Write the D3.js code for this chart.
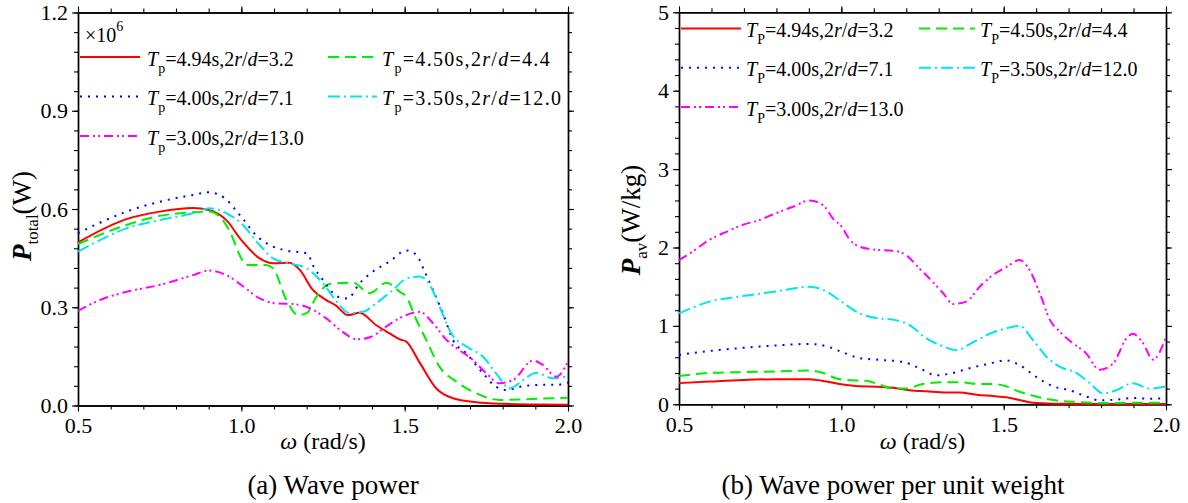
<!DOCTYPE html>
<html>
<head>
<meta charset="utf-8">
<script src="https://cdn.jsdelivr.net/npm/d3@7"></script>
<style>
  html, body { margin: 0; padding: 0; background: #fff; }
  svg { display: block; }
  text { font-family: "Liberation Serif", "Times New Roman", serif; fill: #000; }
</style>
</head>
<body>
<script>
// ---------------- DATA ----------------
// Legend entries (Tp, 2r/d)
const seriesTp = ["4.94", "4.50", "4.00", "3.50", "3.00"];
const seriesRatio = ["3.2", "4.4", "7.1", "12.0", "13.0"];

// Panel (a): total wave power, units of 1e6 W
const a_w_494 = [0.5, 0.648, 0.75, 0.852, 0.9, 0.954, 1.0, 1.056, 1.097, 1.148, 1.179, 1.219, 1.26, 1.29, 1.326, 1.362, 1.413, 1.454, 1.485, 1.505, 1.546, 1.597, 1.648, 1.72, 1.8, 1.9, 2.0];
const a_p_494 = [0.498, 0.569, 0.592, 0.603, 0.597, 0.566, 0.505, 0.449, 0.434, 0.436, 0.414, 0.353, 0.322, 0.305, 0.276, 0.283, 0.245, 0.220, 0.202, 0.195, 0.131, 0.052, 0.022, 0.010, 0.005, 0.003, 0.002];

const a_w_450 = [0.5, 0.648, 0.75, 0.852, 0.9, 0.934, 0.965, 1.0, 1.015, 1.076, 1.097, 1.138, 1.174, 1.2, 1.23, 1.27, 1.342, 1.393, 1.444, 1.485, 1.505, 1.536, 1.566, 1.607, 1.658, 1.72, 1.79, 1.893, 2.0];
const a_p_450 = [0.493, 0.551, 0.579, 0.590, 0.592, 0.576, 0.531, 0.449, 0.429, 0.429, 0.419, 0.322, 0.276, 0.282, 0.332, 0.371, 0.375, 0.343, 0.375, 0.347, 0.332, 0.261, 0.200, 0.118, 0.073, 0.037, 0.017, 0.020, 0.024];

const a_w_400 = [0.5, 0.567, 0.648, 0.75, 0.852, 0.9, 0.949, 1.0, 1.05, 1.087, 1.138, 1.2, 1.224, 1.25, 1.296, 1.326, 1.362, 1.403, 1.453, 1.505, 1.536, 1.561, 1.582, 1.617, 1.648, 1.689, 1.74, 1.78, 1.812, 1.853, 1.913, 1.964, 2.0];
const a_p_400 = [0.526, 0.558, 0.592, 0.622, 0.643, 0.651, 0.633, 0.576, 0.515, 0.490, 0.473, 0.465, 0.419, 0.383, 0.332, 0.327, 0.373, 0.409, 0.439, 0.473, 0.460, 0.409, 0.363, 0.282, 0.200, 0.159, 0.098, 0.057, 0.047, 0.057, 0.063, 0.063, 0.070];

const a_w_350 = [0.5, 0.567, 0.648, 0.75, 0.852, 0.903, 0.954, 1.0, 1.056, 1.097, 1.148, 1.2, 1.25, 1.296, 1.33, 1.372, 1.413, 1.464, 1.505, 1.546, 1.577, 1.607, 1.643, 1.689, 1.74, 1.78, 1.822, 1.863, 1.903, 1.954, 2.0];
const a_p_350 = [0.470, 0.505, 0.541, 0.566, 0.587, 0.602, 0.587, 0.556, 0.490, 0.449, 0.434, 0.419, 0.373, 0.312, 0.282, 0.286, 0.312, 0.353, 0.387, 0.394, 0.368, 0.302, 0.220, 0.180, 0.149, 0.098, 0.052, 0.078, 0.100, 0.083, 0.090];

const a_w_300 = [0.5, 0.567, 0.648, 0.75, 0.852, 0.9, 0.954, 1.0, 1.056, 1.107, 1.158, 1.21, 1.26, 1.31, 1.352, 1.398, 1.443, 1.495, 1.546, 1.587, 1.628, 1.668, 1.709, 1.75, 1.79, 1.832, 1.893, 1.923, 1.964, 2.0];
const a_p_300 = [0.289, 0.322, 0.347, 0.368, 0.398, 0.412, 0.398, 0.368, 0.327, 0.312, 0.310, 0.297, 0.266, 0.225, 0.202, 0.210, 0.241, 0.272, 0.286, 0.251, 0.200, 0.169, 0.139, 0.098, 0.068, 0.078, 0.137, 0.124, 0.088, 0.134];

// Panel (b): wave power per unit weight, W/kg
const b_w_494 = [0.5, 0.594, 0.697, 0.8, 0.902, 0.954, 1.0, 1.056, 1.108, 1.159, 1.21, 1.262, 1.323, 1.364, 1.416, 1.467, 1.508, 1.549, 1.59, 1.652, 1.775, 2.0];
const b_p_494 = [0.27, 0.29, 0.31, 0.32, 0.32, 0.29, 0.255, 0.23, 0.225, 0.21, 0.18, 0.165, 0.15, 0.15, 0.123, 0.105, 0.09, 0.055, 0.02, 0.008, 0.004, 0.004];

const b_w_450 = [0.5, 0.594, 0.697, 0.8, 0.902, 0.944, 0.985, 1.015, 1.077, 1.118, 1.159, 1.2, 1.251, 1.313, 1.364, 1.426, 1.467, 1.508, 1.549, 1.6, 1.652, 1.724, 1.806, 1.898, 2.0];
const b_p_450 = [0.36, 0.40, 0.41, 0.42, 0.43, 0.40, 0.33, 0.31, 0.30, 0.25, 0.20, 0.20, 0.26, 0.28, 0.28, 0.26, 0.26, 0.23, 0.16, 0.10, 0.055, 0.03, 0.015, 0.02, 0.02];

const b_w_400 = [0.5, 0.594, 0.697, 0.8, 0.902, 0.954, 1.0, 1.056, 1.108, 1.19, 1.241, 1.293, 1.344, 1.395, 1.447, 1.508, 1.549, 1.6, 1.652, 1.703, 1.754, 1.795, 1.847, 1.898, 1.95, 2.0];
const b_p_400 = [0.63, 0.68, 0.72, 0.75, 0.77, 0.74, 0.67, 0.59, 0.57, 0.54, 0.46, 0.37, 0.40, 0.46, 0.51, 0.56, 0.50, 0.35, 0.23, 0.18, 0.10, 0.05, 0.06, 0.08, 0.07, 0.08];

const b_w_350 = [0.5, 0.594, 0.697, 0.8, 0.902, 0.954, 1.0, 1.056, 1.108, 1.159, 1.21, 1.262, 1.313, 1.354, 1.405, 1.457, 1.508, 1.549, 1.59, 1.631, 1.672, 1.724, 1.765, 1.806, 1.847, 1.898, 1.95, 2.0];
const b_p_350 = [1.16, 1.31, 1.38, 1.44, 1.50, 1.44, 1.31, 1.16, 1.10, 1.08, 1.01, 0.84, 0.74, 0.69, 0.79, 0.90, 0.97, 1.00, 0.82, 0.61, 0.48, 0.40, 0.27, 0.14, 0.18, 0.27, 0.20, 0.23];

const b_w_300 = [0.5, 0.543, 0.594, 0.646, 0.697, 0.748, 0.8, 0.851, 0.902, 0.944, 0.974, 1.0, 1.026, 1.056, 1.108, 1.159, 1.2, 1.241, 1.282, 1.313, 1.344, 1.385, 1.426, 1.467, 1.508, 1.549, 1.58, 1.611, 1.642, 1.672, 1.713, 1.754, 1.795, 1.837, 1.878, 1.898, 1.929, 1.96, 2.0];
const b_p_300 = [1.84, 1.95, 2.10, 2.20, 2.29, 2.35, 2.44, 2.52, 2.60, 2.54, 2.37, 2.27, 2.10, 2.01, 1.97, 1.96, 1.90, 1.73, 1.56, 1.42, 1.28, 1.31, 1.50, 1.65, 1.75, 1.84, 1.71, 1.42, 1.08, 0.93, 0.78, 0.65, 0.44, 0.52, 0.84, 0.90, 0.78, 0.57, 0.86];

// Axis ticks
const xMajorTicks = [0.5, 1.0, 1.5, 2.0];
const aYMajorTicks = [0.0, 0.3, 0.6, 0.9, 1.2];
const bYMajorTicks = [0, 1, 2, 3, 4, 5];

// ---------------- STYLE ----------------
const colors = ["#ff0000", "#00ee00", "#0000ff", "#00e5ee", "#ff00ff"];
const dashes = [null, "11,6", "2,6", "12,4,2,4", "9,4,2,3,2,4"];

const svg = d3.select("body").append("svg").attr("width", 1188).attr("height", 503);

function zip(w, p) { return w.map((d, i) => [d, p[i]]); }

function drawPanel(cfg) {
  const x = d3.scaleLinear().domain([0.5, 2.0]).range([cfg.left, cfg.right]);
  const y = d3.scaleLinear().domain(cfg.yDomain).range([cfg.bottom, cfg.top]);
  const g = svg.append("g");

  const xMinor = d3.range(0.5, 2.0001, 0.1);
  const yMinor = d3.range(cfg.yDomain[0], cfg.yDomain[1] + 1e-6, cfg.yMinorStep);

  function styleAxis(sel) {
    sel.selectAll("path.domain").attr("stroke", "#000").attr("stroke-width", 1.4);
    sel.selectAll(".tick line").attr("stroke", "#000").attr("stroke-width", 1.1);
    sel.selectAll("text").attr("font-size", 22).attr("fill", "#000");
  }

  // minor ticks
  g.append("g").attr("transform", `translate(0,${cfg.bottom})`)
    .call(d3.axisBottom(x).tickValues(xMinor).tickSize(4).tickSizeOuter(0).tickFormat("")).call(styleAxis);
  g.append("g").attr("transform", `translate(0,${cfg.top})`)
    .call(d3.axisTop(x).tickValues(xMinor).tickSize(4).tickSizeOuter(0).tickFormat("")).call(styleAxis);
  g.append("g").attr("transform", `translate(${cfg.left},0)`)
    .call(d3.axisLeft(y).tickValues(yMinor).tickSize(4).tickSizeOuter(0).tickFormat("")).call(styleAxis);
  g.append("g").attr("transform", `translate(${cfg.right},0)`)
    .call(d3.axisRight(y).tickValues(yMinor).tickSize(4).tickSizeOuter(0).tickFormat("")).call(styleAxis);

  // major ticks with labels
  g.append("g").attr("transform", `translate(0,${cfg.bottom})`)
    .call(d3.axisBottom(x).tickValues(xMajorTicks).tickSize(6).tickPadding(6).tickSizeOuter(0).tickFormat(d3.format(".1f"))).call(styleAxis);
  g.append("g").attr("transform", `translate(0,${cfg.top})`)
    .call(d3.axisTop(x).tickValues(xMajorTicks).tickSize(6).tickSizeOuter(0).tickFormat("")).call(styleAxis);
  g.append("g").attr("transform", `translate(${cfg.left},0)`)
    .call(d3.axisLeft(y).tickValues(cfg.yMajor).tickSize(6).tickPadding(4).tickSizeOuter(0).tickFormat(d3.format(cfg.yFormat))).call(styleAxis);
  g.append("g").attr("transform", `translate(${cfg.right},0)`)
    .call(d3.axisRight(y).tickValues(cfg.yMajor).tickSize(6).tickSizeOuter(0).tickFormat("")).call(styleAxis);

  // curves
  const line = d3.line().x(d => x(d[0])).y(d => y(d[1])).curve(d3.curveMonotoneX);
  cfg.series.forEach((s, i) => {
    g.append("path").datum(zip(s[0], s[1]))
      .attr("fill", "none")
      .attr("stroke", colors[i])
      .attr("stroke-width", 2)
      .attr("stroke-dasharray", dashes[i])
      .attr("d", line);
  });

  // legend
  const rows = [[0, 0], [1, 0], [0, 1], [1, 1], [0, 2]];
  rows.forEach((rc, i) => {
    const col = cfg.legCols[rc[0]];
    const ly = cfg.legY0 + rc[1] * cfg.legDY;
    g.append("line").attr("x1", col[0]).attr("x2", col[1]).attr("y1", ly).attr("y2", ly)
      .attr("stroke", colors[i]).attr("stroke-width", 2).attr("stroke-dasharray", dashes[i]);
    const t = g.append("text").attr("x", col[2]).attr("y", ly + 8.5).attr("font-size", 20)
      .attr("letter-spacing", col[3]);
    t.append("tspan").attr("font-style", "italic").text("T");
    t.append("tspan").attr("font-size", 14).attr("dy", 7).text(cfg.subP);
    t.append("tspan").attr("dy", -7).text("=" + seriesTp[i] + "s,2");
    t.append("tspan").attr("font-style", "italic").text("r");
    t.append("tspan").text("/");
    t.append("tspan").attr("font-style", "italic").text("d");
    t.append("tspan").text("=" + seriesRatio[i]);
  });

  // x title
  const xt = g.append("text").attr("x", (cfg.left + cfg.right) / 2).attr("y", 449)
    .attr("text-anchor", "middle").attr("font-size", 24);
  xt.append("tspan").attr("font-style", "italic").text("ω");
  xt.append("tspan").text(" (rad/s)");

  // y title
  const yt = g.append("text").attr("transform", `translate(${cfg.yTitleX},${cfg.yTitleY}) rotate(-90)`)
    .attr("text-anchor", "middle").attr("font-size", 27);
  yt.append("tspan").attr("font-style", "italic").attr("font-weight", "bold").text("P");
  yt.append("tspan").attr("font-size", 17).attr("dy", 7).text(cfg.ySub);
  yt.append("tspan").attr("dy", -7).text(cfg.yUnit);

  // caption
  g.append("text").attr("x", cfg.capX).attr("y", 494).attr("text-anchor", "middle")
    .attr("font-size", 27).text(cfg.caption);
}

drawPanel({
  left: 78, right: 568, top: 12.5, bottom: 405.5,
  yDomain: [0, 1.2], yMinorStep: 0.06, yMajor: aYMajorTicks, yFormat: ".1f",
  series: [[a_w_494, a_p_494], [a_w_450, a_p_450], [a_w_400, a_p_400], [a_w_350, a_p_350], [a_w_300, a_p_300]],
  legCols: [[80, 140, 147, 0], [328, 377, 382, 1.3]], legY0: 57, legDY: 39.5, subP: "p",
  yTitleX: 31, yTitleY: 216, ySub: "total", yUnit: "(W)",
  capX: 333, caption: "(a) Wave power"
});

drawPanel({
  left: 679, right: 1166, top: 12.3, bottom: 404.3,
  yDomain: [0, 5], yMinorStep: 0.2, yMajor: bYMajorTicks, yFormat: "d",
  series: [[b_w_494, b_p_494], [b_w_450, b_p_450], [b_w_400, b_p_400], [b_w_350, b_p_350], [b_w_300, b_p_300]],
  legCols: [[681, 741, 746, 0], [919, 975, 980, 0]], legY0: 28.5, legDY: 39.3, subP: "P",
  yTitleX: 640, yTitleY: 220, ySub: "av", yUnit: "(W/kg)",
  capX: 893, caption: "(b) Wave power per unit weight"
});

// x10^6 multiplier on panel (a)
const mult = svg.append("text").attr("x", 85).attr("y", 42).attr("font-size", 20);
mult.append("tspan").text("×10");
mult.append("tspan").attr("font-size", 14).attr("dy", -11).text("6");
</script>
</body>
</html>
